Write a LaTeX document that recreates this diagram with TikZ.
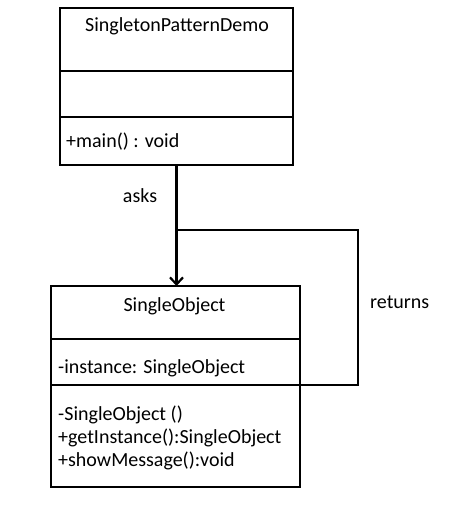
\documentclass[tikz,border=0pt]{standalone}
\usepackage{fontspec}
\setmainfont{Carlito}
\usepackage{tikz}
\usetikzlibrary{positioning,arrows.meta}
\newcommand{\umlfont}{\fontsize{20}{24}\selectfont}

\begin{document}
\begin{tikzpicture}[x=1pt,y=-1pt,
    part/.style={draw, line width=2.2pt, anchor=north west, inner sep=0pt, outer sep=0pt},
    txt/.style={font=\umlfont, inner sep=0pt},
    link/.style={line width=2.2pt}]
\useasboundingbox (0,0) rectangle (454,505);
%
%SingletonPatternDemo
\node[part, minimum width=233pt, minimum height=63pt] (demo) at (60,8) {};
\node[part, minimum width=233pt, minimum height=46pt] (demoattr) at (demo.south west) {};
\node[part, minimum width=233pt, minimum height=48pt] (demoops) at (demoattr.south west) {};
\node[txt, anchor=base] (demoname) at (177,32) {SingletonPatternDemo};
\node[txt, anchor=base west] (demomain) at (66,148) {+main() : void};
%
%SingleObject
\node[part, minimum width=249pt, minimum height=53pt] (single) at (51,286) {};
\node[part, minimum width=249pt, minimum height=46pt] (singleattr) at (single.south west) {};
\node[part, minimum width=249pt, minimum height=102pt] (singleops) at (singleattr.south west) {};
\node[txt, anchor=base] (singlename) at (174.5,311) {SingleObject};
\node[txt, anchor=base west] (singleinst) at (58,373) {-instance: SingleObject};
\node[txt, anchor=base west] (singlector) at (58,420) {-SingleObject ()};
\node[txt, anchor=base west] (singleget) at (58,443) {+getInstance():SingleObject};
\node[txt, anchor=base west] (singleshow) at (58,466) {+showMessage():void};
%
%connectors
\coordinate (join) at (demoops.south |- 0,230);
\coordinate (loop) at (358,230);
\draw[link, -{Straight Barb[length=7pt,width=13pt]}] (demoops.south) -- (demoops.south |- single.north);
\draw[link] (singleattr.south east) -| (loop) -- (join);
\node[txt, anchor=base] (asks) at (140,202) {asks};
\node[txt, anchor=base west] (returns) at (370,308) {returns};
\end{tikzpicture}
\end{document}
